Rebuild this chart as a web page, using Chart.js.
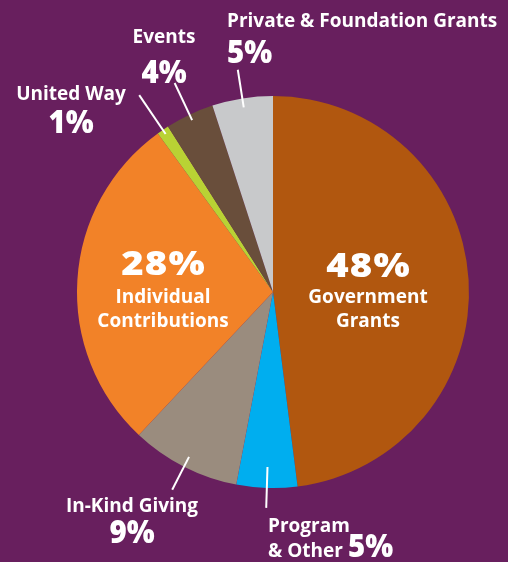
<!DOCTYPE html>
<html>
<head>
<meta charset="utf-8">
<script src="https://cdn.jsdelivr.net/npm/chart.js@4.4.1/dist/chart.umd.min.js"></script>
<style>
  html, body { margin: 0; padding: 0; background: #681f5e; }
  #wrap { width: 508px; height: 562px; }
</style>
</head>
<body>
<div id="wrap"><canvas id="c" width="508" height="562"></canvas></div>
<script>
// ---- data ----
const categories = ['Government Grants', 'Program & Other', 'In-Kind Giving', 'Individual Contributions', 'United Way', 'Events', 'Private & Foundation Grants'];
const shares = [48, 5, 9, 28, 1, 4, 5];
const labelLines = [['Government', 'Grants'], ['Program', '& Other'], ['In-Kind Giving'], ['Individual', 'Contributions'], ['United Way'], ['Events'], ['Private & Foundation Grants']];
const sliceColors = ['#b1570f', '#00aeef', '#9a8c7e', '#f28228', '#b9d234', '#694e3b', '#c8c9cb'];

// ---- label layout (offsets relative to pie centre) ----
const labelLayout = [
  { inside: true, dx: 95, pct: 277 - 292, lines: [303 - 292, 327 - 292], align: 'center' },
  { leader: [175, 216], align: 'left', dx: -5, lines: [532 - 292, 557 - 292], pctDx: 80, pct: 557 - 292 },
  { leader: [185, 222], align: 'center', dx: -141, lines: [512 - 292], pct: 543 - 292 },
  { inside: true, dx: -110, pct: 275 - 292, lines: [303 - 292, 327 - 292], align: 'center' },
  { leader: [191, 238], align: 'center', dx: -202, lines: [100 - 292], pct: 133 - 292 },
  { leader: [190, 231], align: 'center', dx: -109, lines: [43 - 292], pct: 83 - 292 },
  { leader: [187, 225], align: 'left', dx: -46, lines: [27 - 292], pct: 63 - 292 }
];

const labelPlugin = {
  id: 'pieLabels',
  afterDatasetsDraw(chart) {
    const ctx = chart.ctx;
    const meta = chart.getDatasetMeta(0);
    const values = chart.data.datasets[0].data;
    meta.data.forEach((arc, i) => {
      const p = arc.getProps(['x', 'y', 'startAngle', 'endAngle', 'outerRadius'], true);
      const mid = (p.startAngle + p.endAngle) / 2;
      const L = labelLayout[i];
      ctx.save();
      if (L.leader) {
        ctx.strokeStyle = '#ffffff';
        ctx.lineWidth = 2;
        ctx.beginPath();
        ctx.moveTo(p.x + Math.cos(mid) * L.leader[0], p.y + Math.sin(mid) * L.leader[0]);
        ctx.lineTo(p.x + Math.cos(mid) * L.leader[1], p.y + Math.sin(mid) * L.leader[1]);
        ctx.stroke();
      }
      ctx.fillStyle = '#ffffff';
      ctx.textBaseline = 'alphabetic';
      ctx.textAlign = L.align;
      ctx.font = 'bold 19px "Open Sans"';
      ctx.letterSpacing = '0px';
      labelLines[i].forEach((t, k) => {
        ctx.fillText(t, p.x + L.dx, p.y + L.lines[k]);
      });
      const pctX = p.x + L.dx + (L.pctDx || 0);
      ctx.translate(pctX, p.y + L.pct);
      if (L.inside) {
        ctx.font = '800 33px "Open Sans"';
        ctx.letterSpacing = '1px';
        ctx.scale(1.16, 1);
        ctx.fillText(values[i] + '%', 0.5, 0);
      } else {
        ctx.font = '800 31px "Open Sans"';
        ctx.letterSpacing = '0px';
        ctx.scale(0.95, 1);
        ctx.fillText(values[i] + '%', 0, 0);
      }
      ctx.restore();
    });
  }
};

new Chart(document.getElementById('c'), {
  type: 'pie',
  data: {
    labels: categories,
    datasets: [{
      data: shares,
      backgroundColor: sliceColors,
      borderWidth: 0
    }]
  },
  options: {
    responsive: false,
    animation: false,
    layout: { padding: { left: 77, right: 39, top: 96, bottom: 74 } },
    plugins: {
      legend: { display: false },
      tooltip: { enabled: false }
    }
  },
  plugins: [labelPlugin]
});
</script>
</body>
</html>
